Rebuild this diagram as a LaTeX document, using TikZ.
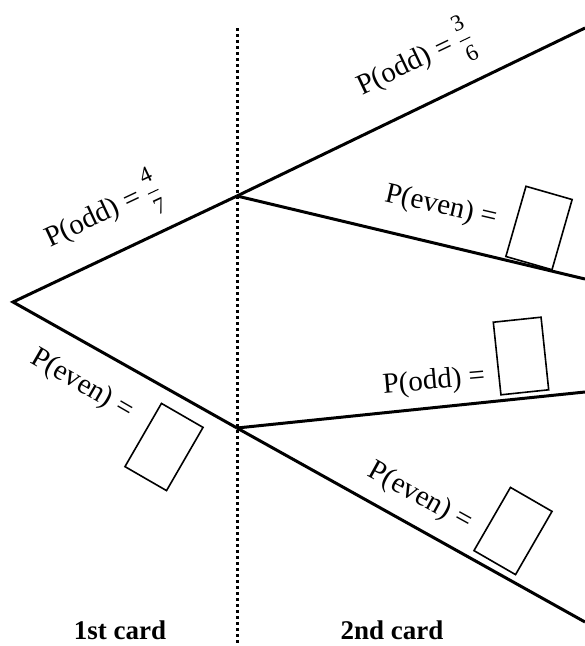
\documentclass[tikz,border=0pt]{standalone}
\usepackage{amsmath}
\usepackage{fontspec}
\setmainfont{Liberation Serif}
\newcommand{\fracdigit}[1]{\hbox{\fontsize{23}{23}\selectfont #1}}
\newcommand{\myfrac}[2]{$\genfrac{}{}{1pt}{0}{\fracdigit{#1}}{\fracdigit{#2}}$}
\begin{document}
\begin{tikzpicture}[x=1pt,y=-1pt,
  branch/.style={line width=3pt},
  lbl/.style={inner sep=0pt,font=\fontsize{29}{32}\selectfont},
  blank/.style={draw,line width=1.6pt,minimum width=48pt,minimum height=73pt,inner sep=0pt},
  cardlbl/.style={inner sep=0pt,font=\fontsize{27}{30}\selectfont\bfseries}]
\useasboundingbox (0,0) rectangle (585,646);
% divider
\coordinate (dtop) at (237,28);
\coordinate (dbot) at (237,646);
\draw[line width=3pt,dash pattern=on 3pt off 3pt] (dtop) -- (dbot);
% tree nodes
\coordinate (root) at (13,302);
\coordinate (U) at (237,196);
\coordinate (L) at (237,428);
\coordinate (t1) at (585,28);
\coordinate (t2) at (585,279);
\coordinate (t3) at (585,392);
\coordinate (t4) at (585,622);
\draw[branch,line join=miter] (U) -- (root) -- (L);
\draw[branch] (U) -- (t1);
\draw[branch] (U) -- (t2);
\draw[branch] (L) -- (t3);
\draw[branch] (L) -- (t4);
% labels
\node[lbl,rotate=25.2] (l1) at (103,214) {P(odd) = \myfrac{4}{7}};
\node[lbl,rotate=-30] (l2) at (82,385) {P(even) =};
\node[blank,rotate=-30] (b2) at (164,447) {};
\node[lbl,rotate=25.5] (l3) at (415,62) {P(odd) = \myfrac{3}{6}};
\node[lbl,rotate=-13] (l4) at (441,207) {P(even) =};
\node[blank,rotate=-16] (b4) at (539,228) {};
\node[lbl,rotate=5] (l5) at (434,382) {P(odd) =};
\node[blank,rotate=6] (b5) at (521,356) {};
\node[lbl,rotate=-29] (l6) at (420,497) {P(even) =};
\node[blank,rotate=-30] (b6) at (513,531) {};
% card labels
\node[cardlbl] (c1) at (120,630) {1st card};
\node[cardlbl] (c2) at (392,630) {2nd card};
\end{tikzpicture}
\end{document}
